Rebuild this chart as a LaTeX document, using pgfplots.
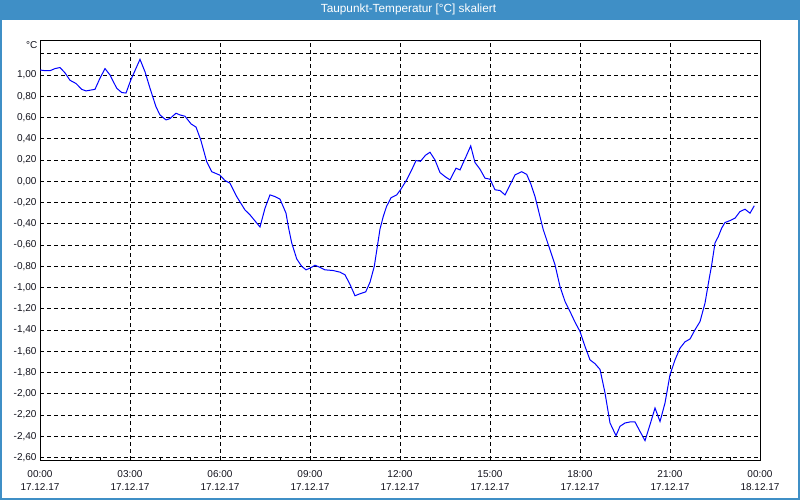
\documentclass[border=0pt]{standalone}
\usepackage{fontspec}
\setmainfont{Liberation Sans}
\usepackage{pgfplots}
\pgfplotsset{compat=1.18}
\definecolor{barblue}{RGB}{63,143,198}
\definecolor{tickc}{RGB}{20,20,30}
\begin{document}
\begin{tikzpicture}[x=1pt,y=1pt]
\useasboundingbox (0,0) rectangle (800,500);
\fill[white] (0,0) rectangle (800,500);
\fill[barblue] (0,479.5) rectangle (800,500);
\draw[barblue, line width=2pt] (1,1) rectangle (799,499);
\node[white, font=\fontsize{11.8}{13}\selectfont] at (408.5,491) {Taupunkt-Temperatur [°C] skaliert};
\node[anchor=east, inner sep=0pt, text=tickc, font=\fontsize{10}{12}\selectfont] at (37.5,455) {°C};
\begin{axis}[
  at={(40pt,40pt)}, anchor=south west,
  width=720pt, height=420pt, scale only axis,
  xmin=0, xmax=24, ymin=-2.622, ymax=1.329,
  axis line style={black, line width=0.9pt},
  /pgf/number format/assume math mode=true,
  tick label style={font=\fontsize{10}{15}\selectfont, text=tickc},
  xtick={0,3,6,9,12,15,18,21,24},
  xticklabels={{00:00\\17.12.17},{03:00\\17.12.17},{06:00\\17.12.17},{09:00\\17.12.17},{12:00\\17.12.17},{15:00\\17.12.17},{18:00\\17.12.17},{21:00\\17.12.17},{00:00\\18.12.17}},
  xticklabel style={align=center, font=\fontsize{10}{13}\selectfont, yshift=-6.5pt},
  minor xtick={1,2,4,5,7,8,10,11,13,14,16,17,19,20,22,23},
  ytick={-2.6,-2.4,-2.2,-2,-1.8,-1.6,-1.4,-1.2,-1,-0.8,-0.6,-0.4,-0.2,0,0.2,0.4,0.6,0.8,1},
  yticklabel style={/pgf/number format/.cd, fixed, fixed zerofill, precision=2, use comma},
  extra y ticks={1.2}, extra y tick labels={},
  tick pos=left, tick align=inside,
  major tick length=0pt, minor tick length=3pt,
  minor tick style={black, line width=0.8pt},
  xmajorgrids=true, ymajorgrids=true,
  major grid style={black, line width=0.8pt, dash pattern=on 4pt off 3pt},
  extra tick style={grid=major, major tick length=0pt},
  clip=true,
]
\addplot[blue, line width=1pt] coordinates {
(0.000,1.047) (0.167,1.04) (0.333,1.04) (0.5,1.06) (0.667,1.07) (0.833,1.02)
(1.0,0.95) (1.2,0.92) (1.39,0.865) (1.533,0.85) (1.833,0.865) (2.0,0.97)
(2.167,1.06) (2.333,1.0) (2.557,0.875) (2.723,0.835) (2.867,0.83) (3.023,0.95)
(3.333,1.147) (3.5,1.03) (3.667,0.875) (3.867,0.70) (4.0,0.624) (4.2,0.577)
(4.333,0.59) (4.533,0.64) (4.667,0.624) (4.833,0.612) (5.033,0.54) (5.2,0.51)
(5.357,0.39) (5.557,0.185) (5.723,0.09) (6.0,0.057) (6.167,0.007) (6.333,-0.018)
(6.557,-0.144) (6.833,-0.27) (7.0,-0.316) (7.333,-0.43) (7.5,-0.253) (7.667,-0.128)
(7.833,-0.144) (8.0,-0.168) (8.2,-0.30) (8.277,-0.426) (8.39,-0.58) (8.557,-0.73)
(8.723,-0.80) (8.867,-0.833) (9.0,-0.817) (9.167,-0.79) (9.333,-0.81) (9.5,-0.833)
(9.777,-0.84) (10.0,-0.855) (10.167,-0.88) (10.333,-0.97) (10.5,-1.077) (10.667,-1.058)
(10.857,-1.04) (11.0,-0.95) (11.143,-0.80) (11.333,-0.45) (11.443,-0.33) (11.55,-0.238)
(11.7,-0.155) (11.89,-0.128) (12.017,-0.08) (12.223,0.013) (12.39,0.107) (12.533,0.195)
(12.683,0.188) (12.85,0.245) (13.0,0.273) (13.167,0.20) (13.333,0.082) (13.5,0.044)
(13.667,0.013) (13.867,0.123) (14.0,0.107) (14.2,0.232) (14.357,0.333) (14.5,0.176)
(14.667,0.113) (14.833,0.029) (15.0,0.02) (15.167,-0.08) (15.333,-0.087) (15.5,-0.128)
(15.667,-0.034) (15.833,0.06) (16.057,0.09) (16.223,0.065) (16.367,-0.03) (16.5,-0.144)
(16.777,-0.457) (17.0,-0.645) (17.167,-0.786) (17.333,-0.99) (17.5,-1.13) (17.667,-1.225)
(17.833,-1.325) (18.0,-1.413) (18.167,-1.554) (18.333,-1.68) (18.5,-1.716) (18.667,-1.77)
(18.833,-1.99) (19.0,-2.274) (19.2,-2.393) (19.333,-2.305) (19.5,-2.274) (19.667,-2.264)
(19.833,-2.264) (20.0,-2.353) (20.167,-2.44) (20.333,-2.29) (20.5,-2.133) (20.667,-2.26)
(20.833,-2.086) (21.0,-1.82) (21.167,-1.68) (21.333,-1.57) (21.5,-1.51) (21.667,-1.484)
(21.833,-1.397) (22.0,-1.32) (22.167,-1.146) (22.31,-0.91) (22.39,-0.786) (22.5,-0.58)
(22.61,-0.52) (22.723,-0.44) (22.833,-0.388) (23.0,-0.37) (23.167,-0.347) (23.333,-0.285)
(23.5,-0.263) (23.667,-0.30) (23.81,-0.23)
};
\end{axis}
\end{tikzpicture}
\end{document}
